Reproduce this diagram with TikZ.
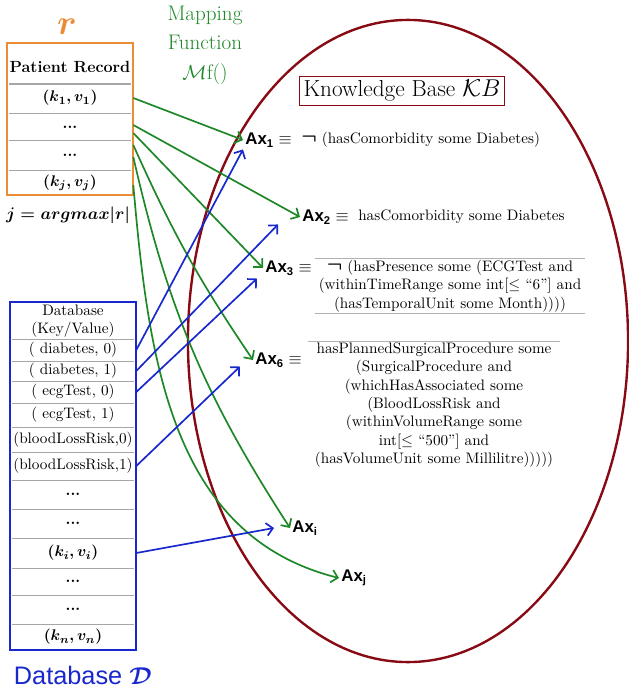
\documentclass[tikz,border=0pt]{standalone}
\usepackage{amsmath,amssymb}
\usepackage{fontspec}
\newfontfamily\axfont{Liberation Sans}
\usetikzlibrary{calc,arrows.meta}
\definecolor{mapgreen}{RGB}{30,135,40}
\definecolor{dbblue}{RGB}{25,40,205}
\definecolor{recorange}{RGB}{235,140,55}
\definecolor{kbred}{RGB}{135,10,20}

\begin{document}
\begin{tikzpicture}[x=0.025cm,y=0.025cm,
  >={Straight Barb[length=4.5pt,width=9pt]},
  cell/.style={inner sep=0pt,minimum width=3.15cm,font=\fontsize{10.8}{13}\selectfont},
  axlabel/.style={anchor=west,inner sep=1.5pt,font=\axfont\bfseries\fontsize{12}{13}\selectfont},
  axbody/.style={inner xsep=0pt,inner ysep=1pt,align=center,font=\fontsize{10.8}{13}\selectfont},
  rowsep/.style={gray!70,line width=0.7pt},
  axrule/.style={gray!60,line width=0.8pt},
  maparrow/.style={->,mapgreen,line width=1.2pt},
  dbarrow/.style={->,dbblue,line width=1.2pt}]
  \useasboundingbox (0,0) rectangle (629,-692);
  % knowledge base
  \draw[kbred,line width=1.7pt] (408,-341) ellipse [x radius=5.5cm,y radius=8.025cm];
  \node[draw=kbred,line width=0.8pt,inner xsep=3pt,inner ysep=3pt,font=\fontsize{16.5}{18}\selectfont] (kb) at (402,-91) {Knowledge Base $\mathcal{K}B$};
  % patient record r
  \node[text=recorange,font=\Huge] (r) at (67,-27) {$\boldsymbol{r}$};
  \draw[recorange,line width=1.1pt] (7,-43) rectangle (133,-195);
  \node[cell,font=\bfseries\fontsize{11.5}{13}\selectfont] (head) at (70,-67) {Patient Record};
  \node[cell] (rk1) at (70,-98) {$\boldsymbol{(k_1,v_1)}$};
  \node[cell] (rd1) at (70,-127) {\textbf{...}};
  \node[cell] (rd2) at (70,-155) {\textbf{...}};
  \node[cell] (rkj) at (70,-183) {$\boldsymbol{(k_j,v_j)}$};
  \draw[rowsep,line width=1.4pt] (9,-84) -- (131,-84);
  \foreach \y in {113,140,170}
    \draw[rowsep] (9,-\y) -- (131,-\y);
  \node[font=\fontsize{11.5}{13}\selectfont] (jmax) at (68,-215) {$\boldsymbol{j = argmax|r|}$};
  % database D
  \draw[dbblue,line width=1.1pt] (10,-302) rectangle (136,-650);
  \node[cell,align=center] (dbhead) at (73,-321) {Database\\(Key/Value)};
  \node[cell] (db1) at (73,-350) {( diabetes, 0)};
  \node[cell] (db2) at (73,-371) {( diabetes, 1)};
  \node[cell] (db3) at (73,-392) {( ecgTest, 0)};
  \node[cell] (db4) at (73,-415) {( ecgTest, 1)};
  \node[cell] (db5) at (73,-440) {(bloodLossRisk,0)};
  \node[cell] (db6) at (73,-466) {(bloodLossRisk,1)};
  \node[cell] (db7) at (73,-494) {\textbf{...}};
  \node[cell] (db8) at (73,-523) {\textbf{...}};
  \node[cell] (db9) at (73,-553) {$\boldsymbol{(k_i,v_i)}$};
  \node[cell] (db10) at (73,-581) {\textbf{...}};
  \node[cell] (db11) at (73,-609) {\textbf{...}};
  \node[cell] (db12) at (73,-637) {$\boldsymbol{(k_n,v_n)}$};
  \foreach \y in {339,361,381,403,427,452,480,509,538,568,595,624}
    \draw[rowsep] (12,-\y) -- (134,-\y);
  \node[anchor=west,text=dbblue,font=\axfont\fontsize{18}{20}\selectfont] (dblabel) at (9,-675) {Database $\boldsymbol{\mathcal{D}}$};
  % mapping function
  \node[align=center,text=mapgreen,font=\fontsize{15}{21}\selectfont] (mapf) at (205,-45) {Mapping\\Function\\$\mathcal{M}$f()};
  % axioms
  \node[axlabel] (ax1) at (243,-140) {Ax\textsubscript{1} $\equiv$};
  \node[axbody,anchor=west] (ax1body) at (301,-140) {{\Large$\boldsymbol{\neg}$} (hasComorbidity some Diabetes)};
  \node[axlabel] (ax2) at (300,-217) {Ax\textsubscript{2} $\equiv$};
  \node[axbody,anchor=west] (ax2body) at (358,-217) {hasComorbidity some Diabetes};
  \node[axlabel] (ax3) at (263,-268) {Ax\textsubscript{3} $\equiv$};
  \node[axbody,minimum width=6.75cm] (ax3body) at (450,-286) {{\Large$\boldsymbol{\neg}$} (hasPresence some (ECGTest and\\(withinTimeRange some int[$\leq$ “6”] and\\(hasTemporalUnit some Month))))};
  \draw[axrule] (ax3body.north west) -- (ax3body.north east);
  \draw[axrule] (ax3body.south west) -- (ax3body.south east);
  \node[axlabel] (ax6) at (253,-360) {Ax\textsubscript{6} $\equiv$};
  \node[axbody,minimum width=6.3cm] (ax6body) at (434,-405) {hasPlannedSurgicalProcedure some\\(SurgicalProcedure and\\(whichHasAssociated some\\(BloodLossRisk and\\(withinVolumeRange some\\int[$\leq$ “500”] and\\(hasVolumeUnit some Millilitre)))))};
  \draw[axrule] (ax6body.north west) -- (ax6body.north east);
  \node[axlabel] (axi) at (290,-528) {Ax\textsubscript{i}};
  \node[axlabel] (axj) at (339,-578) {Ax\textsubscript{j}};
  % record to axioms
  \draw[maparrow] (rk1.east) -- (ax1.west);
  \draw[maparrow] ($(rd1.east)+(0,2)$) -- (ax2.west);
  \draw[maparrow] ($(rd1.east)+(0,-6)$) -- (ax3.west);
  \draw[maparrow] ($(rd2.east)+(0,10)$) to[bend right=5] (ax6.west);
  \draw[maparrow] ($(rd2.east)+(0,-2)$) to[bend right=10] (axi.west);
  \draw[maparrow] ($(rkj.east)+(0,-2)$) to[out=-85,in=166] (axj.west);
  % database to axioms
  \draw[dbarrow] (db1.east) -- (ax1.south west);
  \draw[dbarrow] (db2.east) -- ($(ax2.south west)+(-22,2)$);
  \draw[dbarrow] (db3.east) -- ($(ax3.south west)+(-6,-1)$);
  \draw[dbarrow] (db6.east) -- ($(ax6.south west)+(-13,3)$);
  \draw[dbarrow] (db9.east) -- ($(axi.west)+(-16,0)$);
\end{tikzpicture}
\end{document}
